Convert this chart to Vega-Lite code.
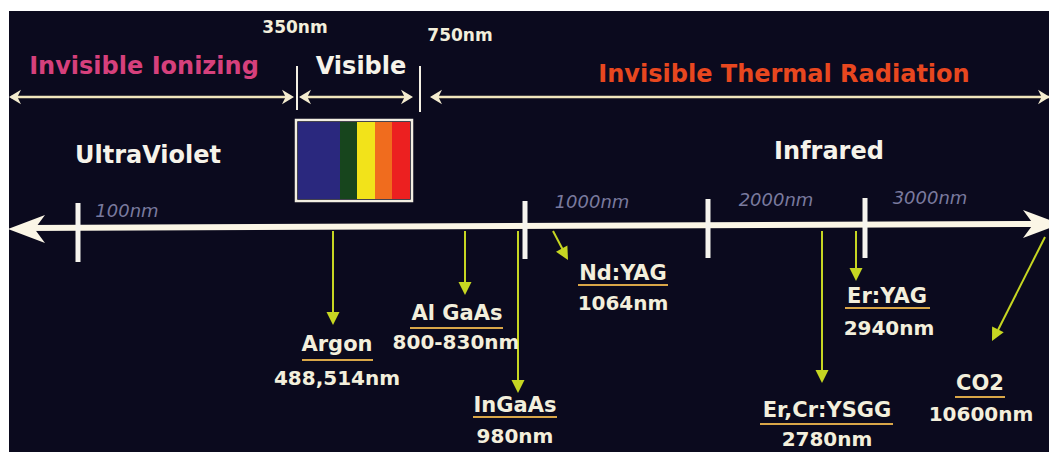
{
  "$schema": "https://vega.github.io/schema/vega-lite/v6.json",
  "width": 1049,
  "height": 452,
  "autosize": {"type": "none"},
  "padding": 0,
  "background": "#ffffff",
  "config": {"view": {"stroke": null}, "text": {"font": "DejaVu Sans"}},
  "resolve": {"scale": {"color": "independent", "shape": "independent"}},
  "datasets": {
    "panel": [{"x": 9, "x2": 1049, "y": 11, "y2": 452}],
    "spectrum": [
      {"band": "violet", "x": 298, "x2": 340, "y": 122, "y2": 199},
      {"band": "green", "x": 340, "x2": 357, "y": 122, "y2": 199},
      {"band": "yellow", "x": 357, "x2": 375, "y": 122, "y2": 199},
      {"band": "orange", "x": 375, "x2": 392, "y": 122, "y2": 199},
      {"band": "red", "x": 392, "x2": 410, "y": 122, "y2": 199}
    ],
    "frame": [{"x": 296, "x2": 412, "y": 120, "y2": 201}],
    "rangeLines": [
      {"region": "Invisible Ionizing", "x": 11, "x2": 290, "y": 97},
      {"region": "Visible", "x": 303, "x2": 409, "y": 97},
      {"region": "Invisible Thermal Radiation", "x": 434, "x2": 1049, "y": 97}
    ],
    "rangeHeads": [
      {"x": 9, "y": 97, "dir": "left"},
      {"x": 294, "y": 97, "dir": "right"},
      {"x": 299, "y": 97, "dir": "left"},
      {"x": 413, "y": 97, "dir": "right"},
      {"x": 430, "y": 97, "dir": "left"},
      {"x": 1050, "y": 97, "dir": "right"}
    ],
    "boundaries": [
      {"nm": 350, "x": 297, "y": 66, "y2": 110},
      {"nm": 750, "x": 420, "y": 66, "y2": 112}
    ],
    "axisLine": [{"x": 24, "y": 228, "x2": 1040, "y2": 224}],
    "axisHeads": [
      {"x": 8, "y": 229, "dir": "left"},
      {"x": 1060, "y": 224, "dir": "right"}
    ],
    "axisTicks": [
      {"label": "100nm", "x": 78, "y": 203, "y2": 262, "lx": 127, "ly": 217},
      {"label": "1000nm", "x": 525, "y": 201, "y2": 259, "lx": 592, "ly": 208},
      {"label": "2000nm", "x": 708, "y": 199, "y2": 258, "lx": 776, "ly": 206},
      {"label": "3000nm", "x": 865, "y": 198, "y2": 258, "lx": 930, "ly": 204}
    ],
    "lasers": [
      {"name": "Argon", "wave": "488,514nm", "x": 333, "y": 231, "x2": 333, "y2": 314, "tx": 333, "ty": 325, "angle": 0, "lx": 337, "ny": 351, "uy": 360, "ux": 302, "ux2": 373, "wx": 337, "wy": 385},
      {"name": "Al GaAs", "wave": "800-830nm", "x": 465, "y": 231, "x2": 465, "y2": 284, "tx": 465, "ty": 295, "angle": 0, "lx": 457, "ny": 320, "uy": 328, "ux": 410, "ux2": 503, "wx": 456, "wy": 349},
      {"name": "InGaAs", "wave": "980nm", "x": 518, "y": 231, "x2": 518, "y2": 382, "tx": 518, "ty": 393, "angle": 0, "lx": 515, "ny": 412, "uy": 417, "ux": 473, "ux2": 557, "wx": 515, "wy": 443},
      {"name": "Nd:YAG", "wave": "1064nm", "x": 553, "y": 231, "x2": 563, "y2": 250, "tx": 568, "ty": 260, "angle": -29, "lx": 623, "ny": 280, "uy": 285, "ux": 578, "ux2": 668, "wx": 623, "wy": 310},
      {"name": "Er,Cr:YSGG", "wave": "2780nm", "x": 822, "y": 231, "x2": 822, "y2": 372, "tx": 822, "ty": 383, "angle": 0, "lx": 827, "ny": 417, "uy": 424, "ux": 760, "ux2": 893, "wx": 827, "wy": 446},
      {"name": "Er:YAG", "wave": "2940nm", "x": 856, "y": 231, "x2": 856, "y2": 270, "tx": 856, "ty": 281, "angle": 0, "lx": 887, "ny": 303, "uy": 308, "ux": 845, "ux2": 930, "wx": 889, "wy": 335},
      {"name": "CO2", "wave": "10600nm", "x": 1045, "y": 237, "x2": 998, "y2": 330, "tx": 992, "ty": 341, "angle": 27, "lx": 980, "ny": 390, "uy": 397, "ux": 955, "ux2": 1005, "wx": 981, "wy": 421}
    ],
    "headings": [
      {"text": "Invisible Ionizing", "x": 144, "y": 74, "role": "ionizing"},
      {"text": "Visible", "x": 361, "y": 74, "role": "plain"},
      {"text": "Invisible Thermal Radiation", "x": 784, "y": 82, "role": "thermal"},
      {"text": "UltraViolet", "x": 148, "y": 163, "role": "plain"},
      {"text": "Infrared", "x": 829, "y": 159, "role": "plain"}
    ],
    "bounds": [
      {"text": "350nm", "x": 295, "y": 33},
      {"text": "750nm", "x": 460, "y": 41}
    ]
  },
  "layer": [
    {
      "data": {"name": "panel"},
      "mark": {"type": "rect", "color": "#0b0a1e"},
      "encoding": {
        "x": {"field": "x", "type": "quantitative", "scale": {"domain": [0, 1049], "nice": false, "zero": false}, "axis": null},
        "x2": {"field": "x2"},
        "y": {"field": "y", "type": "quantitative", "scale": {"domain": [0, 452], "reverse": true, "nice": false, "zero": false}, "axis": null},
        "y2": {"field": "y2"}
      }
    },
    {
      "data": {"name": "spectrum"},
      "mark": {"type": "rect"},
      "encoding": {
        "x": {"field": "x", "type": "quantitative", "axis": null},
        "x2": {"field": "x2"},
        "y": {"field": "y", "type": "quantitative", "axis": null},
        "y2": {"field": "y2"},
        "color": {"field": "band", "type": "nominal", "legend": null,
          "scale": {"domain": ["violet", "green", "yellow", "orange", "red"], "range": ["#2a287e", "#17451d", "#f2e31a", "#f06c1e", "#ec2020"]}}
      }
    },
    {
      "data": {"name": "frame"},
      "mark": {"type": "rect", "fill": null, "fillOpacity": 0, "stroke": "#f2eee2", "strokeWidth": 2.5},
      "encoding": {
        "x": {"field": "x", "type": "quantitative", "axis": null},
        "x2": {"field": "x2"},
        "y": {"field": "y", "type": "quantitative", "axis": null},
        "y2": {"field": "y2"}
      }
    },
    {
      "data": {"name": "rangeLines"},
      "mark": {"type": "rule", "color": "#f1e6bc", "strokeWidth": 2.5},
      "encoding": {
        "x": {"field": "x", "type": "quantitative", "axis": null},
        "x2": {"field": "x2"},
        "y": {"field": "y", "type": "quantitative", "axis": null}
      }
    },
    {
      "data": {"name": "rangeHeads"},
      "mark": {"type": "point", "filled": true, "opacity": 1, "size": 576, "color": "#f4ecd0", "strokeWidth": 0},
      "encoding": {
        "x": {"field": "x", "type": "quantitative", "axis": null},
        "y": {"field": "y", "type": "quantitative", "axis": null},
        "shape": {"field": "dir", "type": "nominal", "legend": null,
          "scale": {"domain": ["left", "right"], "range": ["M0,0L1,-0.6L0.7,0L1,0.6Z", "M0,0L-1,-0.6L-0.7,0L-1,0.6Z"]}}
      }
    },
    {
      "data": {"name": "boundaries"},
      "mark": {"type": "rule", "color": "#f4f0e4", "strokeWidth": 2},
      "encoding": {
        "x": {"field": "x", "type": "quantitative", "axis": null},
        "y": {"field": "y", "type": "quantitative", "axis": null},
        "y2": {"field": "y2"}
      }
    },
    {
      "data": {"name": "axisLine"},
      "mark": {"type": "rule", "color": "#fbf6e6", "strokeWidth": 6},
      "encoding": {
        "x": {"field": "x", "type": "quantitative", "axis": null},
        "x2": {"field": "x2"},
        "y": {"field": "y", "type": "quantitative", "axis": null},
        "y2": {"field": "y2"}
      }
    },
    {
      "data": {"name": "axisHeads"},
      "mark": {"type": "point", "filled": true, "opacity": 1, "size": 5476, "color": "#fbf6e6", "strokeWidth": 0},
      "encoding": {
        "x": {"field": "x", "type": "quantitative", "axis": null},
        "y": {"field": "y", "type": "quantitative", "axis": null},
        "shape": {"field": "dir", "type": "nominal", "legend": null,
          "scale": {"domain": ["left", "right"], "range": ["M0,0L1,-0.38L0.72,0L1,0.38Z", "M0,0L-1,-0.38L-0.72,0L-1,0.38Z"]}}
      }
    },
    {
      "data": {"name": "axisTicks"},
      "mark": {"type": "rule", "color": "#f6f4ee", "strokeWidth": 5},
      "encoding": {
        "x": {"field": "x", "type": "quantitative", "axis": null},
        "y": {"field": "y", "type": "quantitative", "axis": null},
        "y2": {"field": "y2"}
      }
    },
    {
      "data": {"name": "axisTicks"},
      "mark": {"type": "text", "align": "center", "baseline": "alphabetic", "fontSize": 18, "fontStyle": "italic", "color": "#7a7a9e"},
      "encoding": {
        "x": {"field": "lx", "type": "quantitative", "axis": null},
        "y": {"field": "ly", "type": "quantitative", "axis": null},
        "text": {"field": "label"}
      }
    },
    {
      "data": {"name": "lasers"},
      "mark": {"type": "rule", "color": "#c6d622", "strokeWidth": 2},
      "encoding": {
        "x": {"field": "x", "type": "quantitative", "axis": null},
        "x2": {"field": "x2"},
        "y": {"field": "y", "type": "quantitative", "axis": null},
        "y2": {"field": "y2"}
      }
    },
    {
      "data": {"name": "lasers"},
      "mark": {"type": "point", "filled": true, "opacity": 1, "size": 676, "color": "#c6d622", "strokeWidth": 0, "shape": "M0,0L-0.5,-1L0.5,-1Z"},
      "encoding": {
        "x": {"field": "tx", "type": "quantitative", "axis": null},
        "y": {"field": "ty", "type": "quantitative", "axis": null},
        "angle": {"field": "angle", "type": "quantitative", "scale": null}
      }
    },
    {
      "data": {"name": "lasers"},
      "mark": {"type": "rule", "color": "#d9a648", "strokeWidth": 2},
      "encoding": {
        "x": {"field": "ux", "type": "quantitative", "axis": null},
        "x2": {"field": "ux2"},
        "y": {"field": "uy", "type": "quantitative", "axis": null}
      }
    },
    {
      "data": {"name": "lasers"},
      "mark": {"type": "text", "align": "center", "baseline": "alphabetic", "fontSize": 21, "fontWeight": "bold", "color": "#f3efdc"},
      "encoding": {
        "x": {"field": "lx", "type": "quantitative", "axis": null},
        "y": {"field": "ny", "type": "quantitative", "axis": null},
        "text": {"field": "name"}
      }
    },
    {
      "data": {"name": "lasers"},
      "mark": {"type": "text", "align": "center", "baseline": "alphabetic", "fontSize": 20, "fontWeight": "bold", "color": "#f3efdc"},
      "encoding": {
        "x": {"field": "wx", "type": "quantitative", "axis": null},
        "y": {"field": "wy", "type": "quantitative", "axis": null},
        "text": {"field": "wave"}
      }
    },
    {
      "data": {"name": "headings"},
      "mark": {"type": "text", "align": "center", "baseline": "alphabetic", "fontSize": 24, "fontWeight": "bold"},
      "encoding": {
        "x": {"field": "x", "type": "quantitative", "axis": null},
        "y": {"field": "y", "type": "quantitative", "axis": null},
        "text": {"field": "text"},
        "color": {"field": "role", "type": "nominal", "legend": null,
          "scale": {"domain": ["ionizing", "thermal", "plain"], "range": ["#d6407c", "#e8471f", "#f6f3ea"]}}
      }
    },
    {
      "data": {"name": "bounds"},
      "mark": {"type": "text", "align": "center", "baseline": "alphabetic", "fontSize": 17, "fontWeight": "bold", "color": "#f3efdc"},
      "encoding": {
        "x": {"field": "x", "type": "quantitative", "axis": null},
        "y": {"field": "y", "type": "quantitative", "axis": null},
        "text": {"field": "text"}
      }
    }
  ]
}
